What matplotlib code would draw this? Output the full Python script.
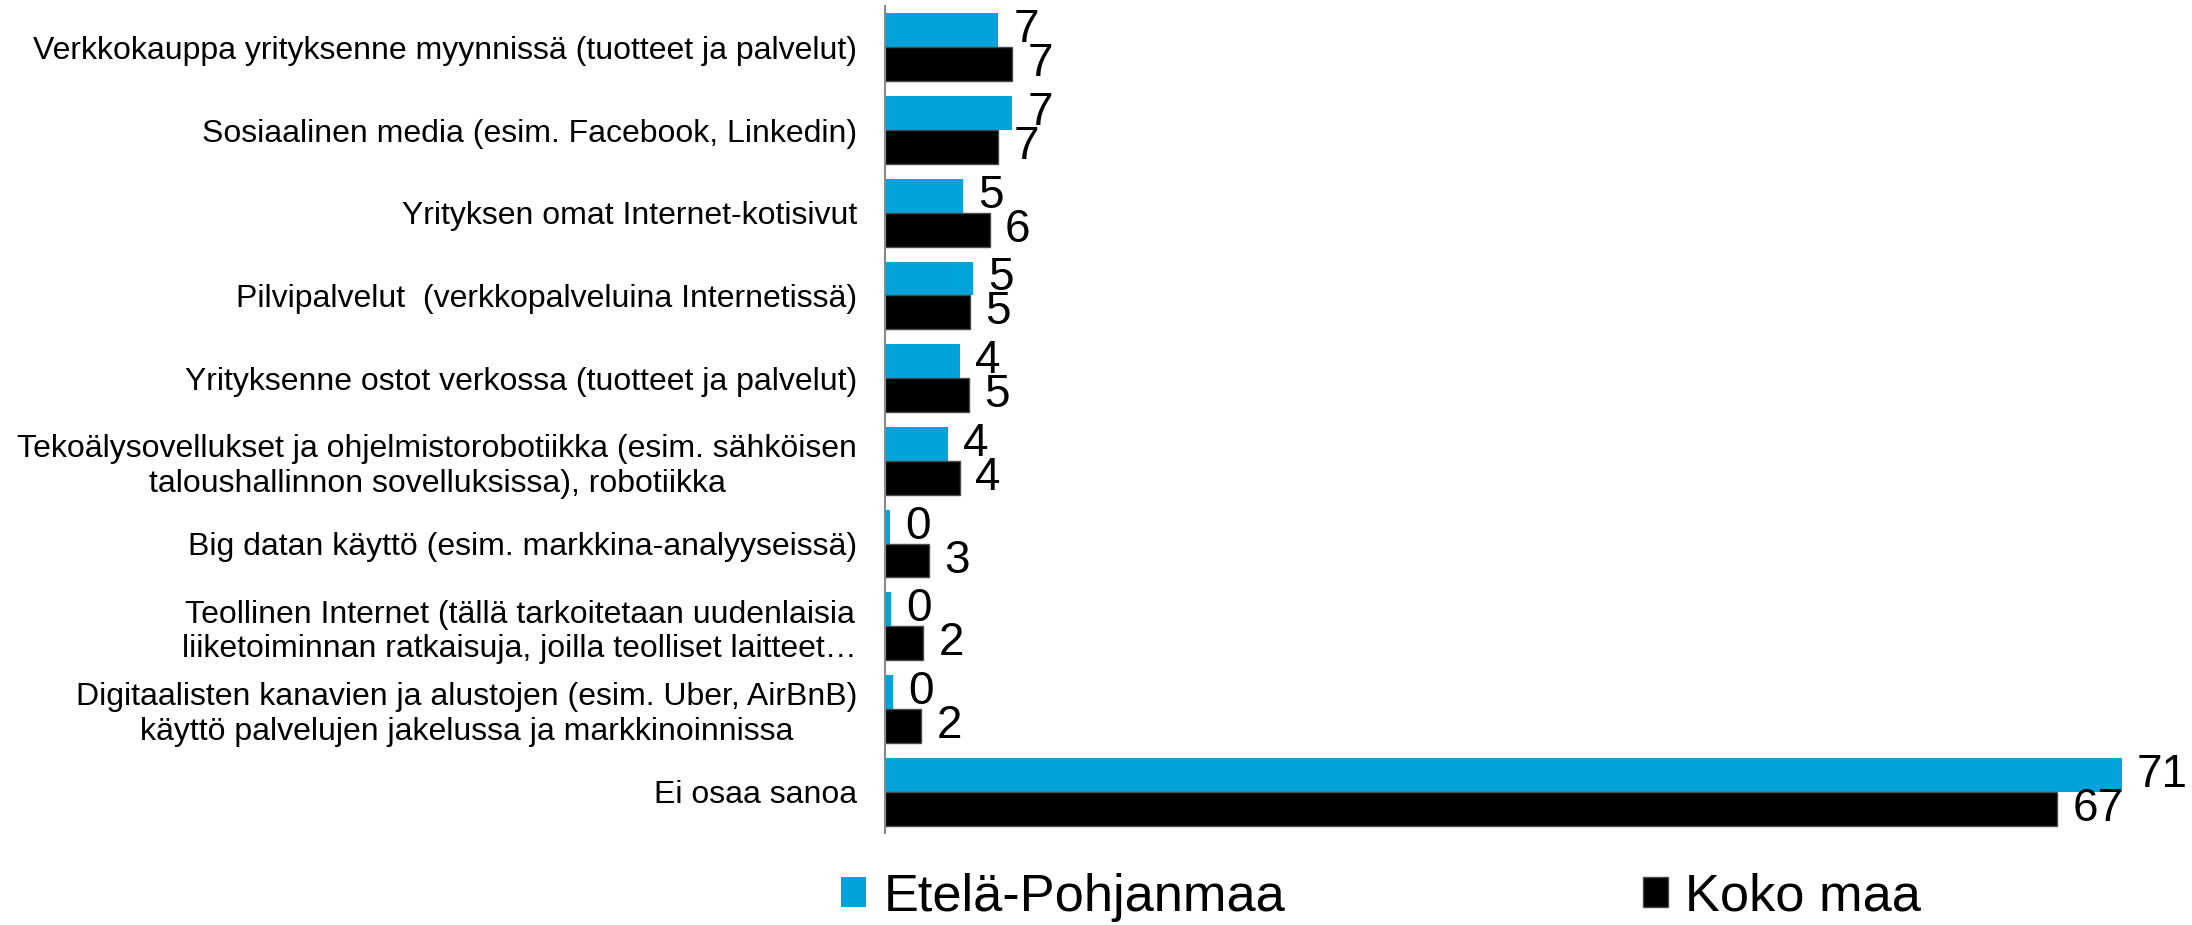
import matplotlib
matplotlib.use("Agg")
import matplotlib.pyplot as plt
import numpy as np

categories = [
    "Verkkokauppa yrityksenne myynnissä (tuotteet ja palvelut)",
    "Sosiaalinen media (esim. Facebook, Linkedin)",
    "Yrityksen omat Internet-kotisivut",
    "Pilvipalvelut  (verkkopalveluina Internetissä)",
    "Yrityksenne ostot verkossa (tuotteet ja palvelut)",
    "Tekoälysovellukset ja ohjelmistorobotiikka (esim. sähköisen\ntaloushallinnon sovelluksissa), robotiikka",
    "Big datan käyttö (esim. markkina-analyyseissä)",
    "Teollinen Internet (tällä tarkoitetaan uudenlaisia\nliiketoiminnan ratkaisuja, joilla teolliset laitteet…",
    "Digitaalisten kanavien ja alustojen (esim. Uber, AirBnB)\nkäyttö palvelujen jakelussa ja markkinoinnissa",
    "Ei osaa sanoa",
]
# bar lengths as drawn
etela_pohjanmaa = [6.5, 7.3, 4.5, 5.05, 4.3, 3.6, 0.26, 0.34, 0.46, 71.0]
koko_maa = [7.3, 6.5, 6.0, 4.9, 4.8, 4.3, 2.55, 2.2, 2.07, 67.3]
# value labels as printed
etela_pohjanmaa_labels = ["7", "7", "5", "5", "4", "4", "0", "0", "0", "71"]
koko_maa_labels = ["7", "7", "6", "5", "5", "4", "3", "2", "2", "67"]
series_names = ["Etelä-Pohjanmaa", "Koko maa"]

plt.rcParams['font.family'] = ['Liberation Sans', 'DejaVu Sans']

BLUE = "#00A3DA"
BLACK = "#000000"

fig = plt.figure(figsize=(21.92, 9.25), dpi=100)
ax = fig.add_axes([885/2192, 1-833/925, 74*17.42/2192, (833-6)/925])

y = np.arange(len(categories))
h = 0.41
b1 = ax.barh(y - h/2, etela_pohjanmaa, height=h, color=BLUE, label=series_names[0])
b2 = ax.barh(y + h/2, koko_maa, height=h, color=BLACK, edgecolor='#4a4a4a',
             linewidth=1, label=series_names[1])

ax.bar_label(b1, labels=etela_pohjanmaa_labels, padding=11, fontsize=33)
ax.bar_label(b2, labels=koko_maa_labels, padding=11, fontsize=33)

ax.set_ylim(len(categories) - 0.5, -0.5)
ax.set_xlim(0, 74)
ax.set_yticks(y)
ax.set_yticklabels(categories, fontsize=23, multialignment='center')
ax.tick_params(axis='y', length=0, pad=20)
ax.set_xticks([])
for s in ['top', 'right', 'bottom']:
    ax.spines[s].set_visible(False)
ax.spines['left'].set_color('#898989')
ax.spines['left'].set_linewidth(1.5)

leg = fig.legend(handles=[b1, b2], labels=series_names, loc='center left',
                 bbox_to_anchor=(841/2192, 1-897/925), ncol=2, frameon=False,
                 fontsize=37.7, handlelength=0.48, handleheight=0.5,
                 handletextpad=0.33, columnspacing=6.83, borderpad=0, borderaxespad=0)

fig.savefig("out.png", dpi=100)
